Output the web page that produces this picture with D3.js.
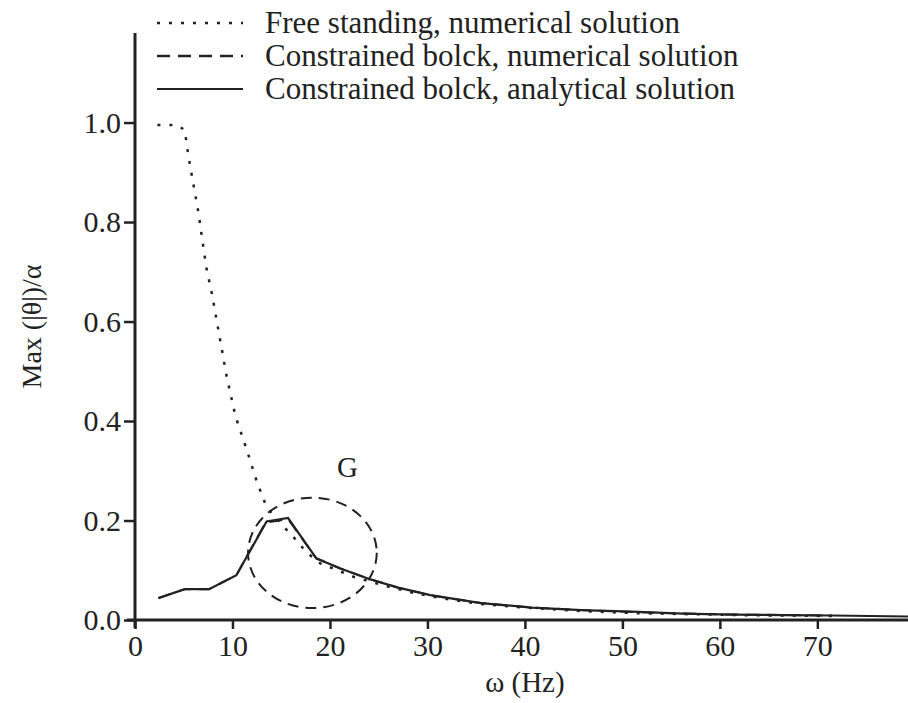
<!DOCTYPE html>
<html>
<head>
<meta charset="utf-8">
<script src="https://cdn.jsdelivr.net/npm/d3@7"></script>
<style>
  body { margin: 0; background: #fff; }
  svg text { font-family: "Liberation Serif", "DejaVu Serif", serif; fill: #222; }
</style>
</head>
<body>
<svg id="chart"></svg>
<script>
// free standing block, numerical solution (dotted)
const freeStanding = [
    [2.3, 0.995], [4.3, 0.995], [5.1, 0.985], [5.5, 0.93], [6.0, 0.875], [6.5, 0.82],
    [6.9, 0.765], [7.3, 0.71], [7.9, 0.655], [8.4, 0.60], [8.9, 0.545], [9.4, 0.49],
    [10.3, 0.41], [11.5, 0.34], [12.5, 0.278], [13.5, 0.227], [14.9, 0.195],
    [16.2, 0.168], [17.6, 0.136], [19.0, 0.114], [22.4, 0.087], [25.8, 0.068],
    [28.9, 0.053], [32, 0.042], [35.5, 0.032], [40.7, 0.024], [45.8, 0.018],
    [51, 0.014], [56.2, 0.012], [61.3, 0.010], [66.5, 0.009], [71.5, 0.008]
];

// constrained block, numerical solution (dashed)
const constrainedNum = [
    [2.4, 0.044], [5.1, 0.062], [7.6, 0.062], [10.4, 0.09], [13.4, 0.196],
    [15.7, 0.203], [18.6, 0.124], [21, 0.104], [24.1, 0.082], [27, 0.065],
    [30.3, 0.05], [35.5, 0.034], [40.7, 0.025], [45.8, 0.02], [51, 0.016],
    [56.2, 0.013], [61.3, 0.011], [66.5, 0.010], [71.5, 0.009]
];

// constrained block, analytical solution (solid)
const constrainedAna = [
    [2.4, 0.044], [5.1, 0.062], [7.6, 0.062], [10.4, 0.09], [13.5, 0.198],
    [15.7, 0.205], [18.6, 0.124], [21, 0.104], [24.1, 0.082], [27, 0.065],
    [30.3, 0.05], [35.5, 0.034], [40.7, 0.025], [45.8, 0.02], [51, 0.017],
    [56.2, 0.013], [61.3, 0.011], [66.5, 0.010], [71.5, 0.009], [79.3, 0.007]
];

const xTicks = [0, 10, 20, 30, 40, 50, 60, 70];
const yTicks = [0, 0.2, 0.4, 0.6, 0.8, 1.0];

const legendLabels = [
    'Free standing, numerical solution',
    'Constrained bolck, numerical solution',
    'Constrained bolck, analytical solution'
];
const legendDash = ['3,9', '13,8', null];

// region G marked by a dashed ellipse (centre and radii in data units)
const regionG = { cx: 18.2, cy: 0.135, rx: 6.6, ry: 0.111, label: 'G' };

const svgWidth = 908;
const svgHeight = 703;
const margin = { top: 33, right: 0, bottom: 83, left: 135 };
const width = svgWidth - margin.left - margin.right;
const height = svgHeight - margin.top - margin.bottom;

const x = d3.scaleLinear().domain([0, 79.3]).range([0, width]);
const y = d3.scaleLinear().domain([0, 1.18]).range([height, 0]);

const svg = d3.select('#chart')
    .attr('width', svgWidth)
    .attr('height', svgHeight)
    .append('g')
    .attr('transform', `translate(${margin.left}, ${margin.top})`);

const line = d3.line()
    .x(d => x(d[0]))
    .y(d => y(d[1]));

// axes
const xAxis = svg.append('g')
    .attr('transform', `translate(0, ${height})`)
    .call(d3.axisBottom(x).tickValues(xTicks).tickSize(9).tickSizeOuter(0).tickPadding(6));

const yAxis = svg.append('g')
    .call(d3.axisLeft(y).tickValues(yTicks).tickSize(11).tickSizeOuter(0).tickPadding(3)
        .tickFormat(d3.format('.1f')));

[xAxis, yAxis].forEach(g => {
    g.select('.domain').remove();
    g.selectAll('.tick line').attr('stroke', '#222').attr('stroke-width', 2.5);
    g.selectAll('.tick text').attr('font-size', '30px').attr('fill', '#222')
        .style('font-family', '"Liberation Serif", serif');
});

svg.append('line')
    .attr('x1', -8).attr('x2', width)
    .attr('y1', height).attr('y2', height)
    .attr('stroke', '#222').attr('stroke-width', 3);

svg.append('line')
    .attr('x1', 0).attr('x2', 0)
    .attr('y1', 0).attr('y2', height + 8)
    .attr('stroke', '#222').attr('stroke-width', 3);

// curves
svg.append('path')
    .datum(freeStanding)
    .attr('d', line)
    .attr('fill', 'none')
    .attr('stroke', '#222')
    .attr('stroke-width', 2.5)
    .attr('stroke-dasharray', '3,9');

svg.append('path')
    .datum(constrainedNum)
    .attr('d', line)
    .attr('fill', 'none')
    .attr('stroke', '#222')
    .attr('stroke-width', 2)
    .attr('stroke-dasharray', '13,8');

svg.append('path')
    .datum(constrainedAna)
    .attr('d', line)
    .attr('fill', 'none')
    .attr('stroke', '#222')
    .attr('stroke-width', 2.2);

// region G
svg.append('ellipse')
    .attr('cx', x(regionG.cx))
    .attr('cy', y(regionG.cy))
    .attr('rx', x(regionG.rx) - x(0))
    .attr('ry', y(0) - y(regionG.ry))
    .attr('fill', 'none')
    .attr('stroke', '#222')
    .attr('stroke-width', 2)
    .attr('stroke-dasharray', '11,7');

svg.append('text')
    .attr('x', x(regionG.cx) + 35)
    .attr('y', y(regionG.cy) - 76)
    .attr('text-anchor', 'middle')
    .attr('font-size', '29px')
    .text(regionG.label);

// axis titles
svg.append('text')
    .attr('x', x(40))
    .attr('y', height + 72)
    .attr('text-anchor', 'middle')
    .attr('font-size', '29px')
    .text('ω (Hz)');

svg.append('text')
    .attr('transform', `translate(${-94}, ${y(0.59)}) rotate(-90)`)
    .attr('text-anchor', 'middle')
    .attr('font-size', '28px')
    .text('Max (|θ|)/α');

// legend
const legend = svg.append('g')
    .attr('transform', `translate(22, ${-margin.top})`);

legendLabels.forEach((label, i) => {
    const row = legend.append('g').attr('transform', `translate(0, ${33 + i * 33})`);
    const ln = row.append('line')
        .attr('x1', 0).attr('x2', 86)
        .attr('y1', -10).attr('y2', -10)
        .attr('stroke', '#222')
        .attr('stroke-width', legendDash[i] ? 2.5 : 2.2);
    if (legendDash[i]) ln.attr('stroke-dasharray', legendDash[i]);
    row.append('text')
        .attr('x', 108)
        .attr('y', 0)
        .attr('font-size', '31px')
        .text(label);
});
</script>
</body>
</html>
